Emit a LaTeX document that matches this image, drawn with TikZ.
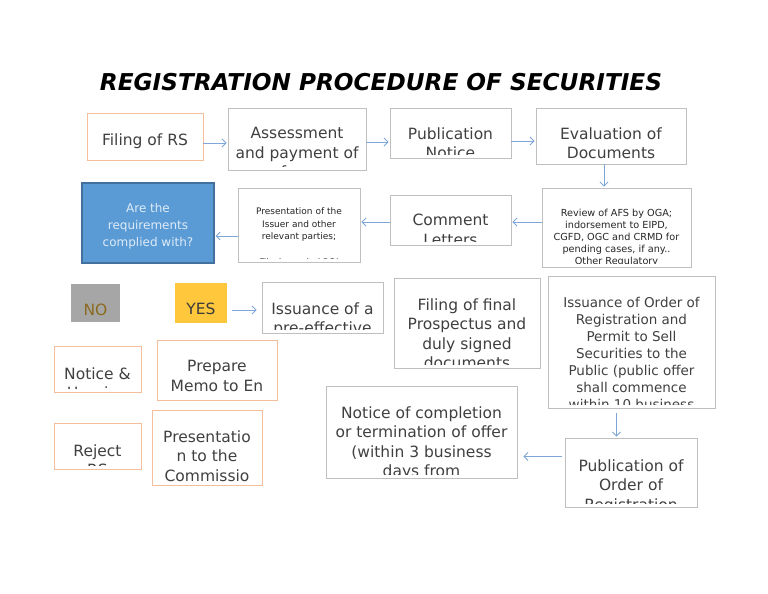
\documentclass[tikz,border=0pt]{standalone}
\usepackage{fontspec}
\setmainfont{DejaVu Sans}
\usetikzlibrary{arrows.meta}
\definecolor{boxgray}{HTML}{BFBFBF}
\definecolor{rsorange}{HTML}{F4BE9C}
\definecolor{textgray}{HTML}{404040}
\definecolor{qblue}{HTML}{5B9BD5}
\definecolor{qborder}{HTML}{41719C}
\definecolor{qtextcol}{HTML}{DDEBF7}
\definecolor{nogray}{HTML}{A6A6A6}
\definecolor{nobrown}{HTML}{8A6A1E}
\definecolor{yesgold}{HTML}{FFC83C}
\definecolor{yestext}{HTML}{3B3B3B}
\definecolor{arrowblue}{HTML}{7EA6D8}

\begin{document}
\begin{tikzpicture}[x=1pt, y=-1pt,
	stepbox/.style={
		draw=boxgray,
		line width=0.8pt,
		fill=white,
		inner sep=0pt},
	rsbox/.style={stepbox, draw=rsorange},
	boxtext/.style={
		anchor=north,
		inner sep=0pt,
		minimum width=0pt,
		minimum height=0pt,
		align=center,
		text=textgray,
		font=\fontsize{15.5}{19.5}\selectfont},
	smalltext/.style={font=\fontsize{9.7}{12}\selectfont, text=black!85},
	tinytext/.style={font=\fontsize{9}{12.5}\selectfont, text=black!85},
	qtext/.style={font=\fontsize{12}{17}\selectfont, text=qtextcol},
	ordertext/.style={font=\fontsize{13.5}{17}\selectfont},
	txt/.style 2 args={path picture={
		\clip ([yshift=3.5pt]path picture bounding box.south west) rectangle (path picture bounding box.north east);
		\node[boxtext,#1] at (path picture bounding box.north) {#2};}},
	myarrow/.style={draw=arrowblue, line width=0.9pt, -{Straight Barb[length=4pt,width=8pt]}, shorten >=1pt}
	]
	\useasboundingbox (0,0) rectangle (768,594);
	\node[font=\fontsize{23.2}{28}\selectfont\bfseries\itshape] (title) at (381,82) {REGISTRATION PROCEDURE OF SECURITIES};
	
	% first row
	\node[rsbox, minimum width=116pt, minimum height=47pt, txt={yshift=-20pt}{Filing of RS}] (filing) at (145,136.5) {};
	\node[stepbox, minimum width=138pt, minimum height=62pt, txt={yshift=-19pt}{Assessment\\and payment of\\fees}] (assess) at (297,139) {};
	\node[stepbox, minimum width=121pt, minimum height=50pt, txt={yshift=-19pt}{Publication\\Notice}] (pubnotice) at (450.5,133) {};
	\node[stepbox, minimum width=150pt, minimum height=56pt, txt={yshift=-19pt}{Evaluation of\\Documents}] (evaluation) at (611,136) {};
	
	% second row
	\node[stepbox, minimum width=149pt, minimum height=79pt, txt={yshift=-21pt,smalltext}{Review of AFS by OGA;\\indorsement to EIPD,\\CGFD, OGC and CRMD for\\pending cases, if any..\\Other Regulatory}] (review) at (616.5,227.5) {};
	\node[stepbox, minimum width=121pt, minimum height=50pt, txt={yshift=-19pt}{Comment\\Letters}] (comment) at (450.5,220) {};
	\node[stepbox, minimum width=122pt, minimum height=74pt, txt={yshift=-19.5pt,tinytext}{Presentation of the\\Issuer and other\\relevant parties;\\[13.5pt]File Amended RS(}] (presiss) at (299,225) {};
	\node[fill=qblue, draw=qborder, line width=1.2pt, inner sep=0pt, minimum width=132pt, minimum height=80pt, txt={yshift=-20pt,qtext}{Are the\\requirements\\complied with?}] (question) at (148,223) {};
	
	% answers
	\node[fill=nogray, inner sep=0pt, minimum width=49pt, minimum height=38pt, txt={yshift=-20pt,text=nobrown}{NO}] (no) at (95.5,303) {};
	\node[fill=yesgold, inner sep=0pt, minimum width=52pt, minimum height=40pt, txt={yshift=-20pt,text=yestext}{YES}] (yes) at (201,303) {};
	\node[stepbox, minimum width=121pt, minimum height=51pt, txt={yshift=-20pt}{Issuance of a\\pre-effective}] (preeff) at (322.5,307.5) {};
	\node[stepbox, minimum width=146pt, minimum height=90pt, txt={yshift=-20pt}{Filing of final\\Prospectus and\\duly signed\\documents}] (final) at (467,323) {};
	\node[stepbox, minimum width=167pt, minimum height=132pt, txt={yshift=-20.4pt,ordertext}{Issuance of Order of\\Registration and\\Permit to Sell\\Securities to the\\Public (public offer\\shall commence\\within 10 business}] (order) at (631.5,342) {};
	
	% rejection path
	\node[rsbox, minimum width=87pt, minimum height=46pt, txt={yshift=-21pt}{Notice \&\\Hearing}] (notice) at (97.5,369) {};
	\node[rsbox, minimum width=120pt, minimum height=60pt, txt={yshift=-20pt}{Prepare\\Memo to En\\Banc}] (memo) at (217,370) {};
	\node[rsbox, minimum width=87pt, minimum height=46pt, txt={yshift=-21pt}{Reject\\RS}] (reject) at (97.5,446) {};
	\node[rsbox, minimum width=110pt, minimum height=75pt, txt={yshift=-20pt}{Presentatio\\n to the\\Commissio\\n}] (presentcomm) at (207,447.5) {};
	
	% offer
	\node[stepbox, minimum width=191pt, minimum height=92pt, txt={yshift=-20pt}{Notice of completion\\or termination of offer\\(within 3 business\\days from}] (completion) at (421.5,432) {};
	\node[stepbox, minimum width=132pt, minimum height=69pt, txt={yshift=-21pt}{Publication of\\Order of\\Registration}] (puborder) at (631,472.5) {};
	
	\foreach \i/\j/\dy in {% start node/end node/shift
		filing/assess/-6.5pt,
		assess/pubnotice/-3pt,
		pubnotice/evaluation/-8pt}
	\draw[myarrow] ([yshift=\dy]\i.east) -- ([yshift=\dy]\i.east -| \j.west);
	
	\foreach \i/\j/\dy in {%
		review/comment/5.5pt,
		comment/presiss/-2pt,
		presiss/question/-11pt}
	\draw[myarrow] ([yshift=\dy]\i.west) -- ([yshift=\dy]\i.west -| \j.east);
	
	\draw[myarrow] ([xshift=-7pt]evaluation.south) -- ([xshift=-7pt]evaluation.south |- review.north);
	\draw[myarrow, shorten <=5pt, shorten >=5pt] ([yshift=-7pt]yes.east) -- ([yshift=-7pt]yes.east -| preeff.west);
	\draw[myarrow, shorten <=5pt] ([xshift=-15pt]order.south) -- ([xshift=-15pt]order.south |- puborder.north);
	\draw[myarrow, shorten <=3pt, shorten >=6pt] ([yshift=16pt]puborder.west) -- ([yshift=16pt]puborder.west -| completion.east);
	
\end{tikzpicture}
\end{document}
